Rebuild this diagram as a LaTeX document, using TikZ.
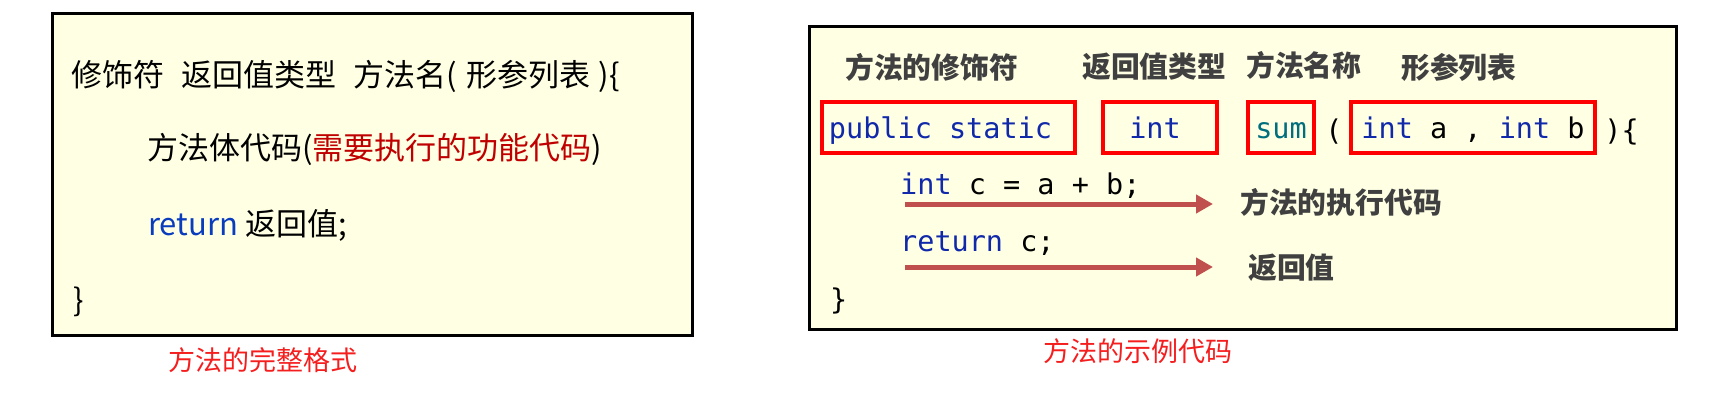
\documentclass[tikz,border=0pt]{standalone}
\usepackage{fontspec}
\usetikzlibrary{positioning, arrows.meta}
\newfontfamily\cjk{Noto Sans CJK SC}
\newfontfamily\codefont{DejaVu Sans Mono}
\definecolor{paper}{RGB}{255,255,228}
\definecolor{bodyRed}{RGB}{192,0,0}
\definecolor{retBlue}{RGB}{10,60,190}
\definecolor{kwBlue}{RGB}{16,40,170}
\definecolor{sumTeal}{RGB}{0,110,125}
\definecolor{tagGray}{RGB}{64,64,64}
\definecolor{arrowRed}{RGB}{192,80,77}
\definecolor{capRed}{RGB}{245,30,30}
\tikzstyle{panel} = [draw=black, line width=3pt, fill=paper]
\tikzstyle{plain} = [anchor=west, inner sep=0pt, font=\cjk\fontsize{31}{36}\selectfont]
\tikzstyle{code} = [anchor=west, inner sep=0pt, font=\codefont\fontsize{28.5}{34}\selectfont]
\tikzstyle{tag} = [anchor=west, inner sep=0pt, text=tagGray, font=\cjk\bfseries\fontsize{28.8}{34}\selectfont]
\tikzstyle{redbox} = [draw=red, line width=4.5pt, inner sep=0pt, minimum height=51pt, text height=25pt, text depth=2pt, font=\codefont\fontsize{28.5}{34}\selectfont]
\tikzstyle{caption} = [inner sep=0pt, text=capRed, font=\cjk\fontsize{27}{32}\selectfont]
\tikzstyle{arrow} = [line width=5pt, draw=arrowRed, -{Triangle[length=17pt, width=18pt]}]

\begin{document}
\begin{tikzpicture}[x=1pt, y=-1pt]
    \useasboundingbox (0,0) rectangle (1709,417);

    %Left Panel
    \draw [panel] (52,14) rectangle (692,335);
    \node (fullHead) [plain] at (71,76) {修饰符\hspace{17pt}返回值类型\hspace{17pt}方法名(\hspace{10pt}形参列表\hspace{8pt})\{};
    \node (fullBody) [plain] at (147,149) {方法体代码(\textcolor{bodyRed}{需要执行的功能代码})};
    \node (fullRet) [plain] at (148,225) {\textcolor{retBlue}{return} 返回值;};
    \node (fullEnd) [plain] at (73,302) {\}};
    \node (fullCap) [caption] at (263,360) {方法的完整格式};

    %Right Panel
    \draw [panel] (809,27) rectangle (1676,329);
    \node (modTag) [tag] at (845,67) {方法的修饰符};
    \node (typeTag) [tag] at (1082,67) {返回值类型};
    \node (nameTag) [tag] at (1246,65) {方法名称};
    \node (argTag) [tag] at (1401,67) {形参列表};

    %Boxed Signature
    \node (modBox) [redbox, minimum width=253pt, text=kwBlue] at (948.5,127.5) {\hspace{-16pt}public static};
    \node (typeBox) [redbox, minimum width=114pt, text=kwBlue] at (1160,127.5) {\hspace{-10pt}int};
    \node (sumBox) [redbox, minimum width=66pt, text=sumTeal] at (1281,127.5) {sum};
    \node (openParen) [code, right=9pt of sumBox, yshift=-4pt] {(};
    \node (argBox) [redbox, minimum width=244pt] at (1473,127.5) {\textcolor{kwBlue}{int} a , \textcolor{kwBlue}{int} b};
    \node (closeParen) [code, right=7pt of argBox, yshift=-4pt] {)\{};

    %Body Lines
    \node (sumLine) [code] at (900,186) {\textcolor{kwBlue}{int} c = a + b;};
    \node (retLine) [code] at (900,243) {\textcolor{kwBlue}{return} c;};
    \node (codeEnd) [code] at (830,301) {\}};
    \node (execTag) [tag] at (1240,202) {方法的执行代码};
    \node (retTag) [tag] at (1248,268) {返回值};
    \node (exampleCap) [caption] at (1138,351) {方法的示例代码};

    %Arrows
    \coordinate (execStart) at (905,204);
    \coordinate (retStart) at (905,267);
    \draw [arrow, shorten >=27pt] (execStart) -- (execStart -| execTag.west);
    \draw [arrow, shorten >=35pt] (retStart) -- (retStart -| retTag.west);

\end{tikzpicture}
\end{document}
